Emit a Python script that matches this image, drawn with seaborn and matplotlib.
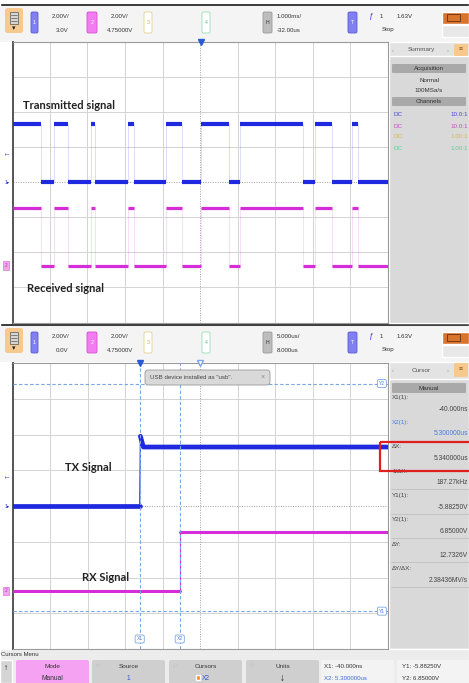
import numpy as np
import pandas as pd
import seaborn as sns
import matplotlib.pyplot as plt
from matplotlib.patches import Rectangle, FancyBboxPatch

# ---- values read off the two scope captures ----
# capture 1 : 1.000 ms/div, delay -32 us (edges of the serial frame, ms)
tx_edges_ms = [-4.27, -3.93, -3.55, -2.94, -2.83, -1.95, -1.79, -0.94, -0.51,
               0.00, 0.74, 1.03, 2.71, 3.03, 3.49, 4.03, 4.19]
rx_edges_ms = [-4.27, -3.93, -3.55, -2.94, -2.83, -1.95, -1.79, -0.94, -0.51,
               0.00, 0.74, 1.03, 2.71, 3.03, 3.49, 4.03, 4.19]
logic_high_v = 3.3
logic_low_v = 0.0

# capture 2 : 5.000 us/div, delay 8 us (single edge, zoomed in)
tx_t_us = [-17.0, -0.04, 0.05, 0.45, 33.0]
tx_v = [0.0, 0.0, 3.9, 3.3, 3.3]
rx_t_us = [-17.0, 5.30, 5.30, 33.0]
rx_v = [0.0, 0.0, 3.3, 3.3]
cursor_x_us = [-0.04, 5.30]
cursor_y_v = [-5.8825, 6.85]

ch1_offset_v = 0.0
ch2_offset_v = 4.75
volts_per_div = 2.0
trigger_level_v = 1.63

summary_rows = [('DC', '10.0:1', '#4a4ad8'), ('DC', '10.0:1', '#c84ac8'),
                ('DC', '1.00:1', '#d8b848'), ('DC', '1.00:1', '#58d498')]
cursor_rows = [('X1(1):', '-40.000ns', '#444444'), ('X2(1):', '5.300000us', '#4a7ae0'),
               ('ΔX:', '5.340000us', '#444444'), ('1/ΔX:', '187.27kHz', '#444444'),
               ('Y1(1):', '-5.88250V', '#444444'), ('Y2(1):', '6.85000V', '#444444'),
               ('ΔY:', '12.7326V', '#444444'), ('ΔY/ΔX:', '2.38436MV/s', '#444444')]

BLUE = '#1f2ae0'
MAGENTA = '#d52ed8'
CURSOR = '#7aa6e6'

sns.set_theme(style='white')
plt.rcParams['font.family'] = ['Liberation Sans', 'DejaVu Sans']

W, H = 469, 683
fig = plt.figure(figsize=(W / 100, H / 100), dpi=100)
fig.patch.set_facecolor('white')


def px(x, y, w, h):
    return [x / W, 1 - (y + h) / H, w / W, h / H]


back = fig.add_axes([0, 0, 1, 1], zorder=0)
front = fig.add_axes([0, 0, 1, 1], zorder=5)
for a in (back, front):
    a.set_xlim(0, W)
    a.set_ylim(H, 0)
    a.axis('off')


def rbox(a, x, y, w, h, fc, ec='none', lw=0.6, r=1.5):
    a.add_patch(FancyBboxPatch((x, y), w, h, boxstyle=f'round,pad=0,rounding_size={r}',
                               fc=fc, ec=ec, lw=lw))


def txt(a, x, y, s, size=4.4, color='#333333', ha='left', **kw):
    a.text(x, y, s, fontsize=size, color=color, ha=ha, va='center', **kw)


def to_div(v, offset=0.0):
    return (np.asarray(v, dtype=float) - offset) / volts_per_div


# ---- instrument chrome ----
back.add_patch(Rectangle((0, 3), W, 3, fc='#111111'))
back.add_patch(Rectangle((0, 322.5), W, 3, fc='#111111'))


def header(y0, ch1_txt, hscale, hdelay):
    back.add_patch(Rectangle((0, y0 - 2), W, 36, fc='#f4f4f4', ec='none'))
    rbox(back, 5, y0, 18, 25, '#f7c98d', r=2.5)
    back.add_patch(Rectangle((10, y0 + 4), 8, 12, fc='#d6d6d6', ec='#555555', lw=0.5))
    for k in range(3):
        back.plot([11, 17], [y0 + 7 + 3 * k] * 2, color='#555555', lw=0.5)
    txt(back, 14, y0 + 20.5, '▾', size=5, color='#222222', ha='center')
    rbox(back, 31, y0 + 4, 7, 21, '#8080f4', ec='#5c5cd0')
    txt(back, 34.5, y0 + 14.5, '1', size=3.8, color='white', ha='center')
    txt(back, 61, y0 + 8, '2.00V/', ha='center')
    txt(back, 62, y0 + 22, ch1_txt, ha='center')
    rbox(back, 87, y0 + 4, 10, 21, '#f47cf2', ec='#d050d0')
    txt(back, 92, y0 + 14.5, '2', size=3.8, color='white', ha='center')
    txt(back, 120, y0 + 8, '2.00V/', ha='center')
    txt(back, 120, y0 + 22, '4.75000V', ha='center')
    rbox(back, 144, y0 + 4, 8, 21, 'white', ec='#e2d28e')
    txt(back, 148, y0 + 14.5, '3', size=3.8, color='#c8b060', ha='center')
    rbox(back, 202, y0 + 4, 8, 21, 'white', ec='#92e0b4')
    txt(back, 206, y0 + 14.5, '4', size=3.8, color='#60c090', ha='center')
    rbox(back, 263, y0 + 4, 9, 21, '#bdbdbd', ec='#9a9a9a')
    txt(back, 267.5, y0 + 14.5, 'H', size=3.8, color='#333333', ha='center')
    txt(back, 277, y0 + 8, hscale)
    txt(back, 277, y0 + 22, hdelay)
    rbox(back, 348, y0 + 4, 9, 21, '#8080f4', ec='#5c5cd0')
    txt(back, 352.5, y0 + 14.5, 'T', size=3.8, color='white', ha='center')
    txt(back, 369, y0 + 8, 'ƒ', size=5.5, color='#3030e0', style='italic')
    txt(back, 380, y0 + 8, '1')
    txt(back, 397, y0 + 8, '1.63V')
    txt(back, 382, y0 + 22, 'Stop')
    back.add_patch(Rectangle((442, y0 + 4), 27, 12, fc='#d8742c'))
    back.add_patch(Rectangle((447, y0 + 6), 13, 7, fill=False, ec='#6a3010', lw=0.6))
    back.add_patch(Rectangle((442, y0 + 17), 27, 12, fc='#e8e8e8'))


header(8, '3.0V', '1.000ms/', '-32.00us')
header(328, '0.0V', '5.000us/', '8.000us')

# right hand panels
back.add_patch(Rectangle((389, 42), 80, 280.5, fc='#d9d9d9'))
back.add_patch(Rectangle((389, 42), 80, 14, fc='#e3e3e3'))
txt(back, 392, 50, '‹', size=4.4, color='#999999')
txt(back, 421, 50, 'Summary', size=4.6, color='#555555', ha='center')
txt(back, 447, 50, '›', size=4.4, color='#999999')
rbox(back, 454, 44, 14, 12, '#f7c98d', r=1.5)
txt(back, 461, 50, '≡', size=5, color='#8a5a20', ha='center')
rbox(back, 392, 64, 74, 9, '#a9a9a9', r=1)
txt(back, 429, 68.5, 'Acquisition', size=4.5, ha='center')
txt(back, 429, 80, 'Normal', size=4.5, ha='center')
txt(back, 429, 91, '100MSa/s', size=4.5, ha='center')
rbox(back, 392, 97, 74, 9, '#a9a9a9', r=1)
txt(back, 429, 101.5, 'Channels', size=4.5, ha='center')
for i, (cpl, probe, col) in enumerate(summary_rows):
    txt(back, 393, 115 + 11 * i, cpl, size=4.5, color=col)
    txt(back, 468, 115 + 11 * i, probe, size=4.5, color=col, ha='right')

back.add_patch(Rectangle((389, 363), 80, 286, fc='#d9d9d9'))
back.add_patch(Rectangle((389, 362), 80, 17, fc='#e3e3e3'))
txt(back, 392, 370, '‹', size=4.4, color='#999999')
txt(back, 421, 370, 'Cursor', size=4.6, color='#555555', ha='center')
txt(back, 447, 370, '›', size=4.4, color='#999999')
rbox(back, 454, 363, 14, 14, '#f7c98d', r=1.5)
txt(back, 461, 370, '≡', size=5, color='#8a5a20', ha='center')
rbox(back, 392, 383, 74, 10, '#a9a9a9', r=1)
txt(back, 429, 388, 'Manual', size=4.5, ha='center')
for i, (lab, val, col) in enumerate(cursor_rows):
    y = 398 + 24.4 * i
    txt(back, 392, y, lab, size=4.5, color=col)
    txt(back, 468, y + 11.5, val, size=4.8, color=col, ha='right')
    if i >= 3:
        back.plot([391, 469], [y + 18] * 2, color='#bcbcbc', lw=0.5)

# bottom soft-key menu
back.add_patch(Rectangle((0, 649), W, 34, fc='#ececec'))
txt(back, 1, 654.5, 'Cursors Menu', size=4.3, color='#333333')
back.add_patch(Rectangle((0, 660), 12, 23, fc='#d4d4d4'))
txt(back, 6, 668, '↑', size=6, color='#111111', ha='center', weight='bold')
keys = [(16, 'Mode', 'Manual', '#f6a2f2', '#333333'),
        (92, 'Source', '1', '#cfcfcf', '#3a5ad8'),
        (169, 'Cursors', 'X2', '#cfcfcf', '#3a5ad8'),
        (246, 'Units', '↓', '#cfcfcf', '#111111')]
for x, top, bot, fc, bc in keys:
    rbox(back, x, 660, 73, 26, fc, r=2)
    txt(back, x + 36.5, 666, top, size=4.6, ha='center')
    txt(back, x + 36.5, 678, bot, size=4.8 if bot != '↓' else 7, color=bc, ha='center',
        weight='bold' if bot == '↓' else 'normal')
    if x > 20:
        txt(back, x + 6, 666, '◌', size=4.5, color='#9a9a9a', ha='center')
back.add_patch(Rectangle((196, 675), 3.5, 5, fc='#f08a30'))
rbox(back, 321, 660, 73, 26, '#f3f3f3', r=1)
txt(back, 324, 666, 'X1: -40.000ns', size=4.4)
txt(back, 324, 678, 'X2: 5.300000us', size=4.4, color='#3a6ad8')
rbox(back, 397, 660, 74, 26, '#f3f3f3', r=1)
txt(back, 402, 666, 'Y1: -5.88250V', size=4.4)
txt(back, 402, 678, 'Y2: 6.85000V', size=4.4)


# ---- the two graticules ----
def scope(rect, center, tdiv):
    ax = fig.add_axes(px(*rect), zorder=2)
    ax.set_facecolor('white')
    k = np.array([-5, -4, -3, -2, -1, 1, 2, 3, 4, 5])
    ax.set_xticks(center + tdiv * k)
    ax.set_yticks([-4, -3, -2, -1, 1, 2, 3, 4])
    ax.grid(True, color='#d3d3d3', lw=0.7)
    ax.axvline(center, color='#a0a0a0', lw=0.7, ls=(0, (1, 1.5)), zorder=1)
    ax.axhline(0, color='#a0a0a0', lw=0.7, ls=(0, (1, 1.5)), zorder=1)
    ax.tick_params(length=0, labelbottom=False, labelleft=False)
    for s in ax.spines.values():
        s.set_color('#9a9a9a')
        s.set_linewidth(0.8)
    ax.spines['left'].set_color('#555555')
    ax.spines['left'].set_linewidth(1.4)
    return ax, (center - 5 * tdiv, center + 5 * tdiv)


def ground_marks(ax):
    ytr = ax.get_yaxis_transform()
    ax.text(-0.006, float(to_div(0.0, ch1_offset_v)), '1▸', transform=ytr, ha='right',
            va='center', fontsize=3.6, color=BLUE, clip_on=False)
    ax.text(-0.018, float(to_div(0.0, ch2_offset_v)), '2', transform=ytr, ha='center',
            va='center', fontsize=3.4, color='#b030b0', clip_on=False,
            bbox=dict(boxstyle='square,pad=0.35', fc='#f2a6f0', ec='#d060d0', lw=0.4))
    ax.text(-0.012, float(to_div(trigger_level_v, ch1_offset_v)), 'T', transform=ytr,
            ha='center', va='center', fontsize=3.4, color=BLUE, rotation=90, clip_on=False)


# capture 1
ax1, xl1 = scope((12.5, 42, 375, 280.5), -0.032, 1.0)
for edges, off, col, lw in [(tx_edges_ms, ch1_offset_v, BLUE, 3.0),
                            (rx_edges_ms, ch2_offset_v, MAGENTA, 2.3)]:
    tb = np.r_[xl1[0], edges, xl1[1]]
    lv = np.where(np.arange(len(edges) + 1) % 2 == 0, logic_high_v, logic_low_v)
    yd = to_div(lv, off)
    df = pd.DataFrame({'t': tb, 'y': np.r_[yd, yd[-1]]})
    sns.lineplot(data=df, x='t', y='y', drawstyle='steps-post', estimator=None, sort=False,
                 color=col, alpha=0.18, lw=0.6, ax=ax1)
    ax1.hlines(yd, tb[:-1], tb[1:], color=col, lw=lw, zorder=3)
ax1.plot([0.0], [1.0], marker='v', ms=4.5, color='#2a5ad8', transform=ax1.get_xaxis_transform(),
         clip_on=False, zorder=6)
ground_marks(ax1)
lab = dict(fontsize=8, weight='bold', color='#222222', family=['Lato', 'DejaVu Sans'],
           va='center', ha='left')
ax1.text(-4.75, 2.2, 'Transmitted signal', **lab)
ax1.text(-4.65, -3.03, 'Received signal', **lab)
ax1.set_xlim(*xl1)
ax1.set_ylim(-4, 4)
ax1.set_xlabel('')
ax1.set_ylabel('')

# capture 2 : thin full trace for the edge, heavy trace for the settled levels
ax2, xl2 = scope((12.5, 363, 375, 286), 8.0, 5.0)
for t, v, off, col, lw in [(tx_t_us, tx_v, ch1_offset_v, BLUE, 3.4),
                           (rx_t_us, rx_v, ch2_offset_v, MAGENTA, 2.2)]:
    t = np.asarray(t)
    y = to_div(v, off)
    sns.lineplot(x=t, y=y, estimator=None, sort=False, color=col, lw=0.8, ax=ax2, zorder=3)
    sns.lineplot(x=t[:2], y=y[:2], estimator=None, sort=False, color=col, lw=lw, ax=ax2, zorder=3)
    sns.lineplot(x=t[2:], y=y[2:], estimator=None, sort=False, color=col, lw=lw, ax=ax2, zorder=3)
for xc, name in zip(cursor_x_us, ['X1', 'X2']):
    ax2.axvline(xc, color=CURSOR, lw=0.8, ls=(0, (3, 2)), zorder=4)
    ax2.text(xc, 0.035, name, transform=ax2.get_xaxis_transform(), ha='center', va='center',
             fontsize=3.6, color='#4a7ad8', zorder=6,
             bbox=dict(boxstyle='round,pad=0.3', fc='white', ec=CURSOR, lw=0.6))
for yc, name in zip(cursor_y_v, ['Y1', 'Y2']):
    ax2.axhline(float(to_div(yc, ch1_offset_v)), color=CURSOR, lw=0.8, ls=(0, (3, 2)), zorder=4)
    ax2.text(0.985, float(to_div(yc, ch1_offset_v)), name, transform=ax2.get_yaxis_transform(),
             ha='center', va='center', fontsize=3.6, color='#4a7ad8', zorder=6, clip_on=False,
             bbox=dict(boxstyle='round,pad=0.3', fc='white', ec=CURSOR, lw=0.6))
ax2.plot([0.0], [1.0], marker='v', ms=4.5, color='#2a5ad8', transform=ax2.get_xaxis_transform(),
         clip_on=False, zorder=6)
ax2.plot([8.0], [1.0], marker='v', ms=4.5, mfc='white', mec=CURSOR,
         transform=ax2.get_xaxis_transform(), clip_on=False, zorder=6)
ground_marks(ax2)
ax2.text(-10.0, 1.09, 'TX Signal', **lab)
ax2.text(-7.73, -1.99, 'RX Signal', **lab)
ax2.set_xlim(*xl2)
ax2.set_ylim(-4, 4)
ax2.set_xlabel('')
ax2.set_ylabel('')
if ax2.get_legend():
    ax2.get_legend().remove()

# pop-up message and highlighted readout
rbox(front, 145, 370, 125, 15, '#d9d9d9', ec='#9a9a9a', lw=0.6, r=3)
txt(front, 150, 377.5, 'USB device installed as "usb".', size=4.4, color='#444444')
txt(front, 263, 377.5, '×', size=5, color='#888888', ha='center')
front.add_patch(Rectangle((380, 442), 92, 29, fill=False, ec='#e02020', lw=1.6))

fig.savefig('out.png', dpi=100)
